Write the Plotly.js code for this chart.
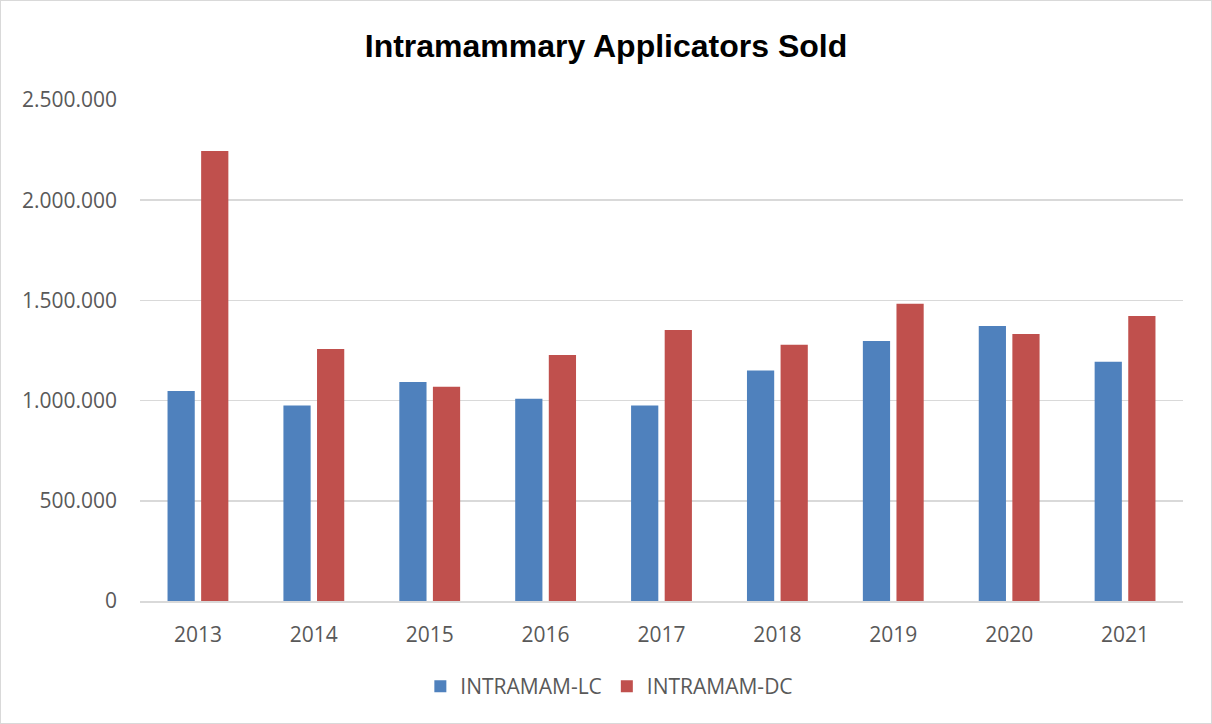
<!DOCTYPE html>
<html>
<head>
<meta charset="utf-8">
<script src="https://cdn.plot.ly/plotly-3.0.1.min.js"></script>
<style>
html,body{margin:0;padding:0;background:#fff;}
#chart{width:1210px;height:722px;border:1px solid #d9d9d9;}
</style>
</head>
<body>
<div id="chart"></div>
<script>
const years = ['2013','2014','2015','2016','2017','2018','2019','2020','2021'];
const lcValues = [1048000, 975000, 1093000, 1009000, 975000, 1150000, 1298000, 1372000, 1194000];
const dcValues = [2245000, 1257000, 1069000, 1227000, 1352000, 1279000, 1483000, 1332000, 1422000];
const seriesNames = ['INTRAMAM-LC', 'INTRAMAM-DC'];
const yTicks = [0, 500000, 1000000, 1500000, 2000000, 2500000];

const font = '"Open Sans", "Liberation Sans", sans-serif';
const traces = [
  {type:'bar', name:seriesNames[0], x:years, y:lcValues, marker:{color:'#4f81bd'}, hoverinfo:'none'},
  {type:'bar', name:seriesNames[1], x:years, y:dcValues, marker:{color:'#c0504d'}, hoverinfo:'none'}
];
const layout = {
  width:1210, height:722,
  margin:{l:139, r:28, t:99, b:122},
  paper_bgcolor:'#fff', plot_bgcolor:'#fff',
  separators:',.',
  barmode:'group', bargap:0.42, bargroupgap:0.19,
  title:{text:'<b>Intramammary Applicators Sold</b>', x:0.5, xanchor:'center', y:0.938, yanchor:'middle',
         font:{family:'"Liberation Sans", "Open Sans", sans-serif', size:32, color:'#000'}},
  xaxis:{type:'category', showgrid:false, showline:true, linecolor:'#d9d9d9', linewidth:1.5,
         ticks:'', tickfont:{family:font, size:21, color:'#595959'}, ticklen:0, ticklabelstandoff:14},
  yaxis:{range:[0,2500000], tickvals:yTicks, tickformat:',d', showgrid:true, gridcolor:'#d9d9d9', gridwidth:1.5,
         zeroline:false, showline:false, ticks:'', tickfont:{family:font, size:21, color:'#595959'}, ticklabelstandoff:22},
  legend:{orientation:'h', x:0.45, xanchor:'center', y:-0.13, yanchor:'top',
          font:{family:font, size:21, color:'#595959'}, itemwidth:30, traceorder:'normal'},
  showlegend:true
};
Plotly.newPlot('chart', traces, layout, {displayModeBar:false, staticPlot:true});
</script>
</body>
</html>
